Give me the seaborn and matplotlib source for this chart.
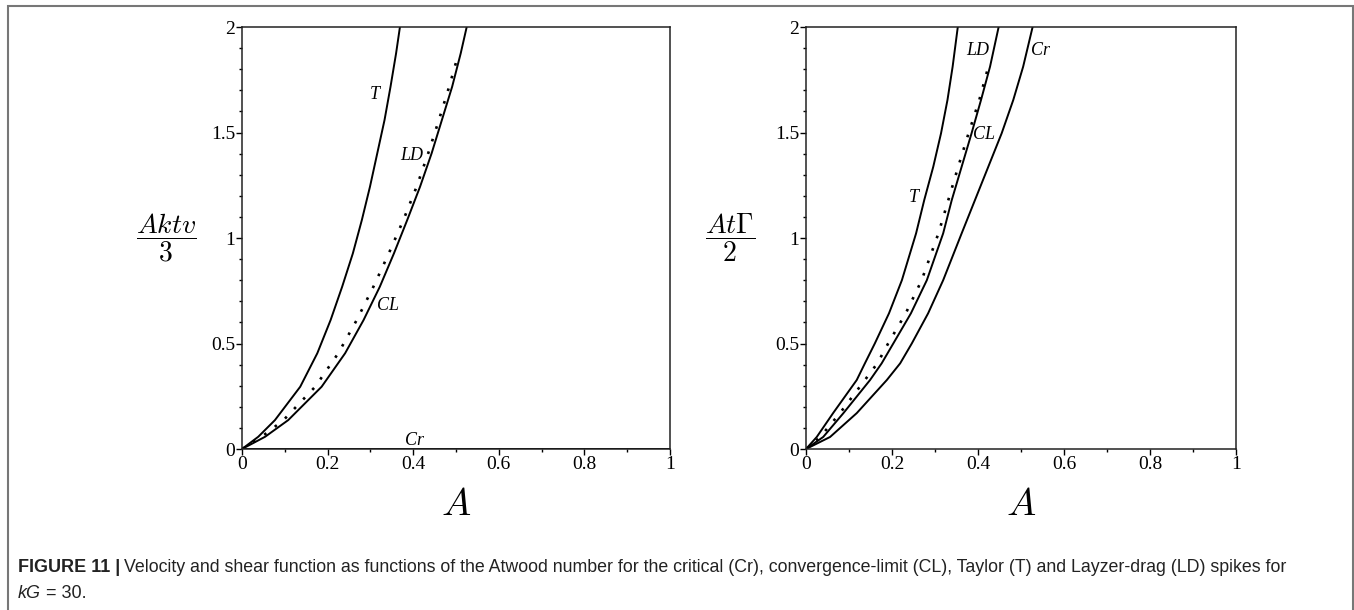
import matplotlib
matplotlib.use("Agg")
import matplotlib.pyplot as plt
import pandas as pd
import seaborn as sns
from matplotlib import ticker
from matplotlib.patches import Rectangle

sns.set_theme(style="white")
plt.rcParams['font.family'] = ['Liberation Serif', 'DejaVu Serif']
plt.rcParams['mathtext.fontset'] = 'cm'

# left panel: velocity  A k t v / 3  vs Atwood number A
left_v = [0, 0.058, 0.137, 0.295, 0.454, 0.611, 0.769, 0.927, 1.085, 1.243, 1.401, 1.559, 1.717, 1.875, 2.0]
left_T_A = [0, 0.038, 0.077, 0.136, 0.176, 0.207, 0.234, 0.259, 0.280, 0.299, 0.316, 0.333, 0.347, 0.360, 0.369]
left_CL_A = [0, 0.054, 0.108, 0.186, 0.241, 0.284, 0.322, 0.355, 0.386, 0.416, 0.443, 0.467, 0.491, 0.511, 0.525]
left_LD_A = [0, 0.046, 0.097, 0.171, 0.225, 0.268, 0.307, 0.343, 0.377, 0.408, 0.435, 0.460, 0.484, 0.506, 0.522]
left_Cr_A = [0, 1]
left_Cr_v = [0, 0]

# right panel: shear function  A t Gamma / 2  vs A
right_v = [0, 0.057, 0.17, 0.327, 0.406, 0.50, 0.643, 0.80, 1.022, 1.18, 1.338, 1.496, 1.654, 1.812, 2.0]
right_T_A = [0, 0.025, 0.063, 0.118, 0.137, 0.160, 0.193, 0.223, 0.256, 0.275, 0.296, 0.314, 0.329, 0.341, 0.353]
right_CL_A = [0, 0.040, 0.087, 0.149, 0.176, 0.203, 0.244, 0.281, 0.319, 0.339, 0.362, 0.385, 0.407, 0.428, 0.448]
right_LD_A = [0, 0.033, 0.079, 0.137, 0.166, 0.191, 0.232, 0.269, 0.308, 0.331, 0.354, 0.378, 0.403, 0.424, 0.444]
right_Cr_A = [0, 0.056, 0.118, 0.188, 0.219, 0.246, 0.284, 0.319, 0.362, 0.393, 0.424, 0.455, 0.482, 0.505, 0.527]

x_ticks = [0, 0.2, 0.4, 0.6, 0.8, 1]
y_ticks = [0, 0.5, 1, 1.5, 2]

panels = [
    {"curves": {"T": (left_T_A, left_v), "CL": (left_CL_A, left_v),
                "LD": (left_LD_A[:-1], left_v[:-1]), "Cr": (left_Cr_A, left_Cr_v)},
     "ylabel": r"$\dfrac{Aktv}{3}$",
     "labels": {"T": (0.311, 1.68), "LD": (0.396, 1.393), "CL": (0.342, 0.682), "Cr": (0.402, 0.04)}},
    {"curves": {"T": (right_T_A, right_v), "CL": (right_CL_A, right_v),
                "LD": (right_LD_A[:-1], right_v[:-1]), "Cr": (right_Cr_A, right_v)},
     "ylabel": r"$\dfrac{At\Gamma}{2}$",
     "labels": {"T": (0.250, 1.19), "LD": (0.400, 1.89), "CL": (0.415, 1.49), "Cr": (0.545, 1.89)}},
]

W, H = 1354, 610
fig = plt.figure(figsize=(W / 100, H / 100), dpi=100)
axes_px = [(242, 428), (806, 430)]
ax_bottom, ax_top = 449, 27

for (x0, w), p in zip(axes_px, panels):
    ax = fig.add_axes([x0 / W, (H - ax_bottom) / H, w / W, (ax_bottom - ax_top) / H])
    for name, (xs, ys) in p["curves"].items():
        df = pd.DataFrame({"A": xs, "v": ys})
        ls = (0, (1, 4)) if name == "LD" else "-"
        lw = 1.9 if name == "LD" else 1.4
        sns.lineplot(data=df, x="A", y="v", ax=ax, color="black", lw=lw,
                     linestyle=ls, sort=False, estimator=None)
    for name, (lx, ly) in p["labels"].items():
        ax.text(lx, ly, name, style="italic", fontsize=13, ha="center", va="center",
                color="black")
    ax.set_xlim(0, 1)
    ax.set_ylim(0, 2)
    ax.set_xticks(x_ticks)
    ax.set_yticks(y_ticks)
    ax.xaxis.set_minor_locator(ticker.MultipleLocator(0.1))
    ax.yaxis.set_minor_locator(ticker.MultipleLocator(0.1))
    ax.xaxis.set_major_formatter(ticker.FuncFormatter(lambda v, pos: '{:g}'.format(v)))
    ax.yaxis.set_major_formatter(ticker.FuncFormatter(lambda v, pos: '{:g}'.format(v)))
    ax.tick_params(which="both", direction="out", left=True, bottom=True,
                   colors="black", labelsize=14, width=1, pad=1)
    ax.tick_params(which="major", length=4)
    ax.tick_params(which="minor", length=2.5)
    for s in ax.spines.values():
        s.set_color("#222222")
        s.set_linewidth(1.1)
    ax.set_xlabel(r"$A$", fontsize=28, labelpad=10, color="black")
    ax.set_ylabel(p["ylabel"], fontsize=20, rotation=0, labelpad=32,
                  va="center", color="black")

# figure frame
fig.patches.append(Rectangle((8 / W, -0.01), (W - 9) / W, (H - 6) / H + 0.01,
                             transform=fig.transFigure, fill=False,
                             edgecolor="#777777", lw=1.5))

# caption
cap_font = ['Liberation Sans Narrow', 'Liberation Sans', 'DejaVu Sans']
y1 = 1 - 568 / H
y2 = 1 - 593 / H
t1 = fig.text(18 / W, y1, "FIGURE 11 |", family=cap_font, weight="bold",
              fontsize=13, va="center", color="#222222")
t3 = fig.text(18 / W, y2, "kG", family=cap_font, style="italic",
              fontsize=13, va="center", color="#222222")
fig.canvas.draw()
r = fig.canvas.get_renderer()
e1 = t1.get_window_extent(r)
e3 = t3.get_window_extent(r)
fig.text((e1.x1 + 4) / W, y1,
         "Velocity and shear function as functions of the Atwood number for the critical (Cr), "
         "convergence-limit (CL), Taylor (T) and Layzer-drag (LD) spikes for",
         family=cap_font, fontsize=12.8, va="center", color="#222222")
fig.text((e3.x1) / W, y2, " = 30.", family=cap_font, fontsize=13,
         va="center", color="#222222")

fig.savefig("out.png", dpi=100)
